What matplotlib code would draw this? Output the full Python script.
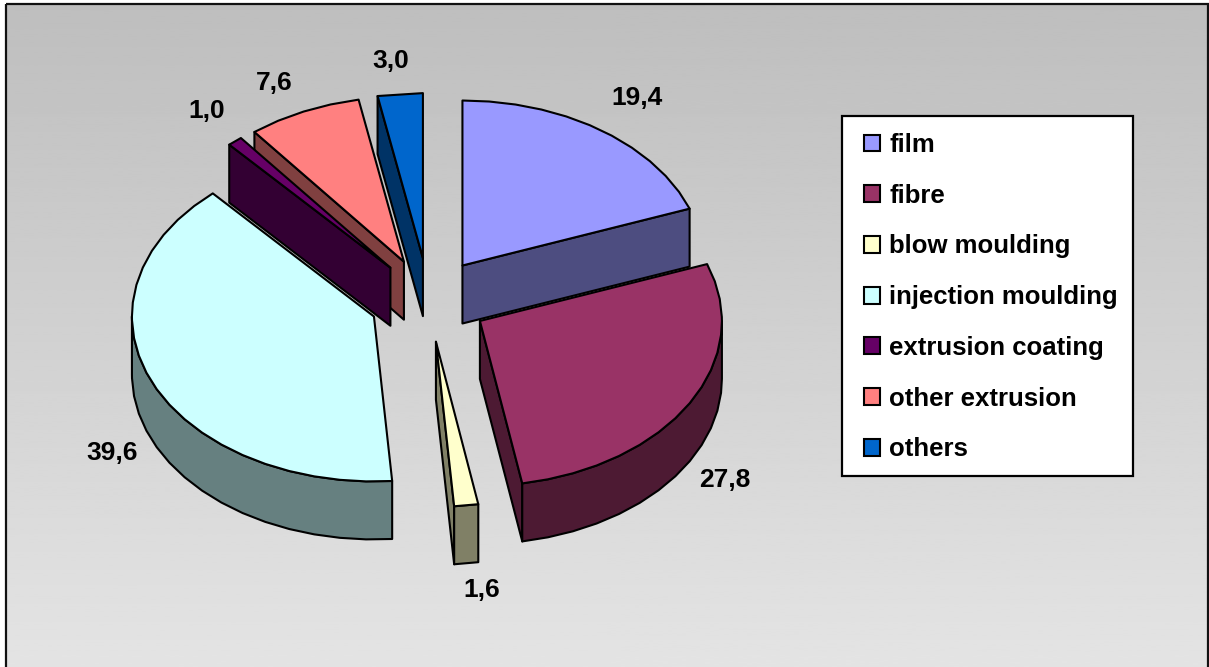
import numpy as np
import matplotlib
matplotlib.use("Agg")
import matplotlib.pyplot as plt
from matplotlib.colors import to_rgb
from matplotlib.patches import Patch, Polygon, Rectangle

categories = ["film", "fibre", "blow moulding", "injection moulding",
              "extrusion coating", "other extrusion", "others"]
values = [19.4, 27.8, 1.6, 39.6, 1.0, 7.6, 3.0]
value_labels = ["19,4", "27,8", "1,6", "39,6", "1,0", "7,6", "3,0"]
colors = ["#9999FF", "#993366", "#FFFFCC", "#CCFFFF", "#660066", "#FF8080", "#0066CC"]

# pie geometry, in pixels of the picture
W, H = 1209, 667
cx, cy = 428.5, 300
rx, ry = 242, 165
depth = 58
explode_x, explode_y = 0.245, 0.255
label_xy = [(637, 98), (725, 480), (482, 590), (112, 453), (207, 111), (274, 83), (391, 61)]

plt.rcParams["font.family"] = ["Liberation Sans", "DejaVu Sans"]
plt.rcParams["font.weight"] = "bold"

fig = plt.figure(figsize=(W / 100, H / 100), dpi=100)
ax = fig.add_axes([0, 0, 1, 1])
ax.set_xlim(0, W)
ax.set_ylim(H, 0)
ax.axis("off")

# grey gradient background with the black frame
grad = np.linspace(0.745, 0.893, 256).reshape(-1, 1)
ax.imshow(grad, cmap="gray", vmin=0, vmax=1, extent=(6, 1208, H, 4), aspect="auto", zorder=0)
ax.add_patch(Rectangle((6, 4), 1202, H + 10, fill=False, ec="#111111", lw=1.6, zorder=1))
ax.set_xlim(0, W)
ax.set_ylim(H, 0)


def point(t, ox, oy):
    # t is degrees clockwise from the top of the ellipse
    a = np.radians(t)
    return ox + rx * np.sin(a), oy - ry * np.cos(a)


def face(pts, col, z):
    ax.add_patch(Polygon(pts, closed=True, fc=col, ec="black", lw=1.5, joinstyle="round", zorder=z))


angles = np.cumsum([0] + values) / sum(values) * 360

wedges = []
for i in range(len(values)):
    t0, t1 = angles[i], angles[i + 1]
    mid = np.radians((t0 + t1) / 2)
    ox = cx + explode_x * rx * np.sin(mid)
    oy = cy - explode_y * ry * np.cos(mid)
    wedges.append((oy, i, t0, t1, ox))

# back to front
for z, (oy, i, t0, t1, ox) in enumerate(sorted(wedges), start=2):
    col = colors[i]
    side = tuple(c * 0.5 for c in to_rgb(col))
    # coarse arc, the original outline is faceted too
    ts = np.linspace(t0, t1, max(2, int((t1 - t0) / 6) + 1))
    ts = np.unique(np.concatenate([ts, [t for t in (90, 270) if t0 < t < t1]]))
    arc = [point(t, ox, oy) for t in ts]
    mx, my = point((t0 + t1) / 2, ox, oy)
    inner = ((ox + mx) / 2, (oy + my) / 2)

    # cut faces, only those turned to the viewer
    for t in (t0, t1):
        ex, ey = point(t, ox, oy)
        nx, ny = -(ey - oy), ex - ox
        if nx * (inner[0] - ox) + ny * (inner[1] - oy) > 0:
            nx, ny = -nx, -ny
        if ny > 1e-6:
            face([(ox, oy), (ex, ey), (ex, ey + depth), (ox, oy + depth)], side, z)

    # outer rim, front half of the ellipse only
    vis = ts[(ts >= 90) & (ts <= 270)]
    if len(vis) > 1:
        top = [point(t, ox, oy) for t in vis]
        bot = [(x, y + depth) for x, y in top]
        face(top + bot[::-1], side, z)

    face([(ox, oy)] + arc, col, z + 0.5)

for txt, (x, y) in zip(value_labels, label_xy):
    ax.text(x, y, txt, ha="center", va="center", fontsize=19, fontweight="bold", color="black", zorder=20)

# legend box drawn apart, the padding is not the same left and right
ax.add_patch(Rectangle((842, 116), 291, 360, fc="white", ec="black", lw=1.6, zorder=29))
handles = [Patch(fc=c, ec="black", lw=1.5) for c in colors]
leg = ax.legend(handles, categories, loc="upper left", bbox_to_anchor=(864, 133),
                bbox_transform=ax.transData, borderaxespad=0, borderpad=0,
                fontsize=18.5, handlelength=0.63, handleheight=0.63, handletextpad=0.35,
                labelspacing=1.04, frameon=False)
leg.set_zorder(30)

fig.savefig("out.png", dpi=100)
